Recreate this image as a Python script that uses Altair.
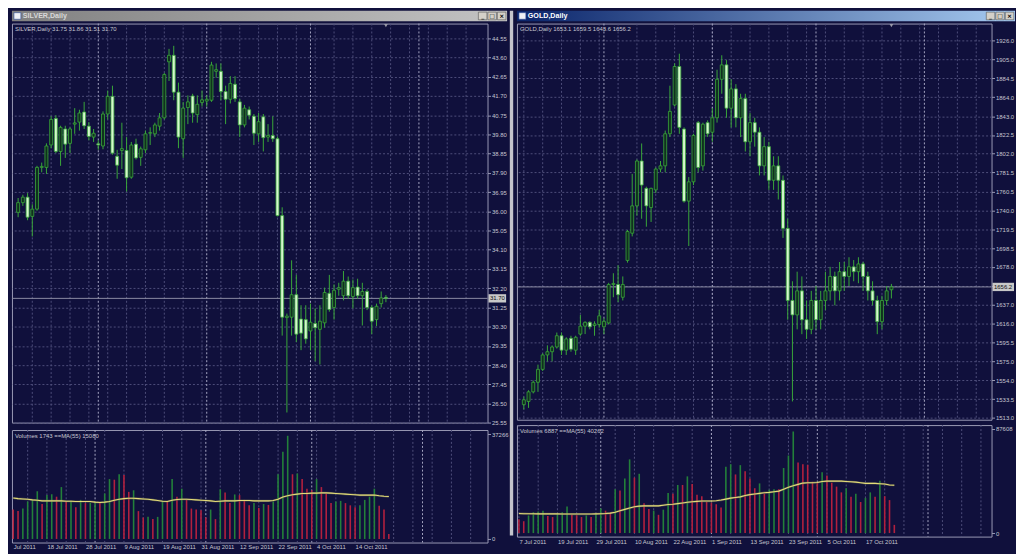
import altair as alt
import pandas as pd

# ------------------------------------------------------------------ data
silver_open = [35.95, 36.43, 36.70, 35.75, 36.11, 38.17, 38.17, 39.28, 40.59, 38.96,
               40.07, 39.36, 40.31, 40.41, 40.91, 40.21, 39.67, 39.34, 39.23, 40.81,
               41.68, 38.72, 39.01, 39.01, 37.69, 39.32, 38.67, 39.04, 39.86, 39.83,
               40.21, 40.62, 43.39, 43.71, 41.89, 39.59, 41.13, 41.70, 40.78, 41.38,
               41.45, 41.49, 42.92, 42.92, 41.92, 41.54, 42.28, 41.41, 40.27, 41.02,
               40.70, 39.83, 40.67, 39.67, 39.75, 39.59, 35.79, 30.75, 30.77, 31.88,
               30.68, 30.65, 30.09, 30.46, 30.17, 30.49, 31.95, 31.25, 32.15, 31.83,
               32.55, 31.79, 32.26, 31.83, 32.04, 31.25, 30.65, 31.44, 31.75]
silver_high = [36.66, 36.82, 36.90, 36.35, 38.25, 38.41, 39.36, 40.70, 40.75, 40.23,
               40.23, 40.15, 41.10, 41.02, 41.41, 40.41, 40.07, 39.51, 40.94, 41.97,
               42.21, 39.04, 40.38, 39.67, 39.43, 39.59, 39.20, 39.99, 40.15, 40.38,
               40.86, 42.84, 44.03, 44.18, 42.36, 41.41, 41.73, 41.81, 41.73, 41.97,
               41.73, 43.39, 43.31, 43.31, 42.21, 42.68, 42.68, 41.57, 41.26, 41.18,
               40.81, 40.86, 40.81, 40.31, 40.70, 39.70, 36.20, 30.95, 33.58, 32.86,
               31.36, 31.36, 31.44, 31.20, 31.36, 32.23, 32.86, 32.39, 32.47, 33.05,
               32.78, 32.63, 32.67, 32.47, 32.15, 31.36, 31.44, 32.04, 31.86]
silver_low = [35.71, 36.27, 35.56, 34.76, 36.03, 37.93, 37.85, 39.12, 38.88, 38.25,
              38.64, 38.88, 39.83, 39.99, 40.07, 39.51, 39.43, 39.04, 39.07, 40.54,
              38.80, 37.61, 38.09, 36.98, 37.61, 38.56, 38.25, 38.88, 39.28, 39.67,
              39.99, 40.54, 42.44, 41.49, 39.12, 38.64, 40.31, 40.38, 40.38, 41.18,
              41.18, 41.41, 42.60, 41.49, 40.31, 41.33, 41.41, 39.67, 40.15, 40.54,
              39.28, 39.43, 38.96, 39.43, 39.43, 35.75, 29.86, 26.06, 29.86, 29.54,
              29.14, 29.46, 29.14, 28.59, 28.43, 30.25, 31.04, 30.65, 31.83, 31.60,
              31.68, 31.20, 31.68, 30.36, 31.12, 29.93, 30.33, 31.25, 31.51]
silver_close = [36.43, 36.70, 35.71, 36.11, 38.17, 38.22, 39.23, 40.54, 38.96, 40.15,
                39.32, 40.07, 40.37, 40.86, 40.23, 39.70, 39.86, 39.28, 40.81, 41.68,
                38.88, 38.28, 39.10, 37.66, 39.28, 38.64, 39.09, 39.83, 39.89, 40.27,
                40.62, 42.76, 43.71, 41.89, 39.67, 41.10, 41.41, 40.86, 41.29, 41.51,
                41.54, 43.23, 43.00, 41.92, 41.54, 42.32, 41.57, 40.27, 41.10, 40.75,
                39.86, 40.43, 39.64, 39.75, 39.59, 35.79, 30.77, 30.82, 31.88, 29.93,
                29.98, 29.70, 30.52, 30.25, 30.57, 31.99, 31.15, 32.10, 32.23, 32.55,
                31.83, 32.23, 31.83, 32.04, 31.25, 30.57, 31.31, 31.72, 31.70]
silver_vol = [10474, 9905, 10816, 13323, 13893, 16970, 12412, 15603, 15900, 15033,
              18452, 13200, 13551, 11272, 13893, 12753, 12900, 13095, 12800, 16172,
              21301, 21073, 23010, 22700, 16742, 17312, 9905, 7626, 7900, 7056,
              7854, 13600, 13323, 21301, 15033, 17882, 13893, 10816, 10474, 10200,
              7626, 10474, 7056, 17654, 16514, 12753, 15831, 15603, 13893, 11956,
              12753, 11044, 12412, 12100, 13323, 23010, 30988, 36686, 23010, 23300,
              21301, 17882, 17312, 21301, 18452, 16172, 12753, 13323, 13551, 12753,
              11956, 11272, 11956, 13893, 15033, 17882, 11842, 10474, 1743]
silver_vol_dir = list("RRGGGGRGGR" "GRGRGRGGRG" "GRGRRGRRGR" "GGRGRGRRRR" "RGRGRRGRRR"
                      "GRGRGGGGRG" "RRRGRRRGGR" "RRGGGGRRR")
silver_ma = [14577, 14349, 14235, 14121, 13893, 13779, 13551, 13551, 13551, 13551,
             13551, 13437, 13437, 13323, 13323, 13323, 13323, 13095, 12981, 13095,
             13323, 13779, 14121, 14349, 14463, 14463, 14349, 14235, 14121, 13893,
             13665, 13437, 13323, 13779, 14007, 14121, 14121, 14007, 13893, 13779,
             13665, 13551, 13323, 13437, 13551, 13551, 13551, 13665, 13665, 13665,
             13551, 13551, 13551, 13551, 13665, 14121, 14919, 15375, 15716, 15944,
             16172, 16172, 16286, 16286, 16400, 16400, 16286, 16172, 16058, 15944,
             15830, 15716, 15603, 15603, 15603, 15603, 15375, 15200, 15080]

gold_open = [1527.4, 1530.9, 1541.4, 1551.9, 1566.0, 1581.8, 1585.3, 1590.5, 1602.8, 1587.0,
             1600.0, 1587.0, 1604.6, 1613.3, 1617.5, 1614.0, 1615.1, 1612.6, 1616.8, 1658.9,
             1658.9, 1644.9, 1685.2, 1715.0, 1744.9, 1794.0, 1764.1, 1743.1, 1762.4, 1785.2,
             1788.7, 1823.8, 1855.3, 1897.4, 1829.0, 1750.1, 1771.2, 1836.0, 1788.7, 1836.0,
             1825.5, 1841.3, 1883.4, 1899.2, 1851.8, 1872.9, 1841.3, 1862.3, 1815.0, 1836.0,
             1825.5, 1788.7, 1809.7, 1772.9, 1788.7, 1772.9, 1720.3, 1641.4, 1625.6, 1651.9,
             1620.3, 1609.8, 1641.4, 1620.3, 1641.4, 1651.9, 1667.7, 1651.9, 1672.9, 1667.7,
             1678.2, 1672.9, 1681.4, 1667.7, 1651.9, 1641.4, 1618.2, 1641.4, 1653.1]
gold_high = [1536.2, 1543.2, 1553.7, 1571.2, 1583.5, 1592.3, 1592.3, 1606.3, 1606.3, 1601.1,
             1602.8, 1602.8, 1625.6, 1618.6, 1618.6, 1618.6, 1630.9, 1622.1, 1660.7, 1671.2,
             1680.0, 1667.7, 1718.5, 1779.9, 1795.7, 1813.2, 1765.9, 1764.8, 1786.9, 1794.0,
             1827.3, 1876.4, 1900.9, 1911.4, 1830.8, 1776.4, 1823.8, 1837.8, 1836.0, 1838.5,
             1851.8, 1893.9, 1909.7, 1904.4, 1883.4, 1878.1, 1867.6, 1867.6, 1846.5, 1841.3,
             1830.8, 1820.2, 1815.0, 1799.2, 1799.2, 1778.2, 1730.8, 1662.4, 1672.9, 1667.7,
             1641.4, 1651.9, 1657.2, 1651.9, 1672.9, 1678.2, 1672.9, 1683.5, 1683.5, 1688.7,
             1685.6, 1688.7, 1683.5, 1672.9, 1662.4, 1646.6, 1646.6, 1657.2, 1659.5]
gold_low = [1522.1, 1523.9, 1539.7, 1541.4, 1564.2, 1574.7, 1574.7, 1588.8, 1581.8, 1581.8,
            1585.3, 1581.8, 1602.8, 1604.6, 1609.8, 1602.8, 1611.6, 1604.6, 1615.1, 1644.9,
            1639.6, 1641.4, 1682.8, 1711.5, 1734.3, 1730.8, 1722.1, 1727.3, 1758.9, 1781.7,
            1781.7, 1820.3, 1853.6, 1823.8, 1748.4, 1701.0, 1767.6, 1781.7, 1783.4, 1820.3,
            1815.0, 1836.0, 1867.6, 1841.3, 1830.8, 1830.8, 1820.2, 1804.4, 1799.2, 1809.7,
            1778.2, 1778.2, 1762.4, 1762.4, 1751.9, 1709.8, 1620.3, 1530.9, 1609.8, 1604.5,
            1599.3, 1604.5, 1609.8, 1609.8, 1630.8, 1641.4, 1636.1, 1641.4, 1651.9, 1657.2,
            1662.4, 1660.3, 1651.9, 1641.4, 1636.1, 1604.5, 1609.8, 1636.1, 1643.6]
gold_close = [1532.7, 1541.4, 1551.9, 1566.0, 1581.8, 1585.3, 1590.5, 1602.8, 1587.0, 1599.3,
              1588.1, 1601.1, 1613.3, 1617.5, 1612.6, 1615.7, 1624.6, 1618.6, 1658.9, 1660.0,
              1647.7, 1658.9, 1716.8, 1744.9, 1794.0, 1767.7, 1744.9, 1764.1, 1785.2, 1788.7,
              1823.8, 1848.3, 1897.4, 1830.8, 1750.1, 1771.2, 1822.0, 1786.9, 1834.3, 1823.8,
              1841.3, 1883.4, 1899.2, 1851.8, 1872.9, 1841.3, 1862.3, 1815.0, 1836.0, 1825.5,
              1788.7, 1809.7, 1772.9, 1788.7, 1772.9, 1720.3, 1641.4, 1625.6, 1651.9, 1620.3,
              1609.8, 1641.4, 1620.3, 1641.4, 1651.9, 1667.7, 1651.9, 1672.9, 1667.7, 1678.2,
              1672.9, 1681.4, 1667.7, 1651.9, 1641.4, 1618.2, 1641.4, 1651.9, 1656.2]
gold_vol = [11567, 9950, 14803, 17500, 18039, 18848, 14264, 13455, 16153, 17500,
            22353, 15345, 15000, 13455, 14803, 13455, 16153, 20735, 18848, 17500,
            36913, 35835, 45812, 61990, 46620, 49857, 25049, 20196, 18848, 15345,
            19657, 33677, 33138, 40419, 40419, 47700, 41228, 32329, 30981, 26127,
            25588, 24240, 21544, 55789, 57945, 49318, 57137, 52012, 45812, 37723,
            41767, 33138, 36374, 36913, 36913, 54710, 65224, 85447, 59293, 57945,
            57406, 43115, 42306, 51202, 48506, 42306, 39069, 34216, 37723, 30443,
            33138, 26127, 29632, 34216, 30443, 43924, 30981, 27745, 6887]
gold_vol_dir = list("RRGGGGRRGG" "GRRRGRGGRR" "GRGGRGRRGR" "GGRGRGRRRR" "RRRGGRGRRR"
                    "GRGGRGGGRR" "RRRGRRRRGR" "GRGGRGRRR")
gold_ma = [16400, 16300, 16250, 16200, 16150, 16150, 16150, 16100, 16100, 16050,
           16050, 16000, 16000, 16000, 16000, 16050, 16100, 16200, 16400, 16800,
           17500, 18848, 19926, 21005, 22083, 22622, 22892, 22892, 22892, 22892,
           23431, 23970, 24240, 24779, 25318, 25857, 26397, 26666, 26936, 26936,
           26936, 27205, 27745, 28554, 29363, 29902, 30443, 31521, 32329, 32868,
           33408, 33947, 34216, 34755, 35294, 36913, 38530, 39879, 40955, 42040,
           42306, 42306, 42573, 43382, 43656, 43656, 43656, 43656, 43382, 43115,
           42848, 42306, 41767, 41767, 41767, 41497, 41228, 40419, 40262]

silver_price_labels = [44.55, 43.60, 42.65, 41.70, 40.75, 39.80, 38.85, 37.90, 36.95, 36.00,
                       35.05, 34.10, 33.15, 32.20, 31.25, 30.30, 29.35, 28.40, 27.45, 26.50, 25.55]
gold_price_labels = [1926.0, 1905.0, 1884.5, 1864.0, 1843.0, 1822.5, 1802.0, 1781.5, 1760.5,
                     1740.0, 1719.5, 1698.5, 1678.0, 1657.5, 1637.0, 1616.0, 1595.5, 1575.0,
                     1554.0, 1533.5, 1513.0]
silver_date_idx = [0, 7, 15, 23, 31, 39, 47, 55, 63, 71]
silver_date_txt = ["Jul 2011", "18 Jul 2011", "28 Jul 2011", "9 Aug 2011", "19 Aug 2011",
                   "31 Aug 2011", "12 Sep 2011", "22 Sep 2011", "4 Oct 2011", "14 Oct 2011"]
gold_date_idx = [0, 8, 16, 24, 32, 40, 48, 56, 64, 72]
gold_date_txt = ["7 Jul 2011", "19 Jul 2011", "29 Jul 2011", "10 Aug 2011", "22 Aug 2011",
                 "1 Sep 2011", "13 Sep 2011", "23 Sep 2011", "5 Oct 2011", "17 Oct 2011"]
silver_grid_idx = list(range(3, 99, 4))
gold_grid_idx = list(range(0, 99, 4))
month_sep_idx = [17, 40, 62, 85]

# ------------------------------------------------------------------ style
SX = 1008 / 1020
SY = 538 / 554
NAVY = "#10103c"
GRID = "#4e4e7a"
MONTH = "#a6a6c2"
FRAME = "#9a9ab4"
TXT = "#c6c6d0"
WICK = "#3aa83a"
BULL = "#10301f"
BEAR = "#d4f7cc"
VUP = "#23803a"
VDN = "#b2203e"
MAC = "#e4dc78"
FONT = "Liberation Sans"
FS = 6.0


def title_bar(title, w, h, c0, c1, tc):
    base = alt.Chart(pd.DataFrame({"t": [title]}))
    grad = alt.LinearGradient(gradient="linear", x1=0, x2=1, y1=0, y2=0,
                              stops=[alt.GradientStop(color=c0, offset=0),
                                     alt.GradientStop(color=c1, offset=1)])
    layers = [
        base.mark_rect(color=grad).encode(x=alt.value(0), x2=alt.value(w),
                                          y=alt.value(0), y2=alt.value(h)),
        base.mark_rect(color="#eef0f6", stroke="#2a4a9a", strokeWidth=0.6).encode(
            x=alt.value(2), x2=alt.value(9), y=alt.value(2), y2=alt.value(h - 2)),
        base.mark_text(align="left", baseline="middle", font=FONT, fontSize=7.2,
                       fontWeight="bold", color=tc).encode(
            text="t:N", x=alt.value(11), y=alt.value(h / 2 + 0.5)),
    ]
    for k, g in enumerate(["_", "□", "×"]):
        x0 = w - 29 + k * 9.6
        layers.append(base.mark_rect(color="#d4d0c8", stroke="#404040", strokeWidth=0.5).encode(
            x=alt.value(x0), x2=alt.value(x0 + 8.6), y=alt.value(1.5), y2=alt.value(h - 1.5)))
        layers.append(base.mark_text(align="center", baseline="middle", font="DejaVu Sans",
                                     fontSize=6, fontWeight="bold", color="#000000").encode(
            text=alt.value(g), x=alt.value(x0 + 4.3), y=alt.value(h / 2)))
    return alt.layer(*layers).properties(width=w, height=h, view=alt.ViewBackground(stroke=None))


def price_pane(o, h, l, c, header, pw, ph, axw, xdom, ydom, yvals, fmt, hide, grid_idx):
    n = len(o)
    df = pd.DataFrame({"i": list(range(n)), "o": o, "h": h, "l": l, "c": c})
    df["d"] = ["up" if cc >= oo else "down" for oo, cc in zip(o, c)]
    xs = alt.Scale(domain=xdom, nice=False, zero=False)
    ys = alt.Scale(domain=ydom, nice=False, zero=False)
    cond = " || ".join(f"datum.value == {v}" for v in hide) if hide else "false"
    yaxis = alt.Axis(orient="right", values=yvals, labelExpr=f"({cond}) ? '' : format(datum.value, '{fmt}')",
                     grid=True, gridDash=[2, 2], gridColor=GRID, gridWidth=1, domain=False,
                     ticks=True, tickSize=3, tickColor=FRAME, labelColor=TXT, labelFont=FONT,
                     labelFontSize=FS, labelPadding=1, labelOverlap=False, labelFlush=False,
                     labelBound=False, title=None)

    def X(f):
        return alt.X(f, scale=xs, axis=None)

    def Y(f):
        return alt.Y(f, scale=ys, axis=yaxis)

    last = c[-1]
    bh = 4.2 * (ydom[1] - ydom[0]) / ph
    layers = [
        alt.Chart(pd.DataFrame({"g": grid_idx})).mark_rule(color=GRID, strokeDash=[2, 2], strokeWidth=1)
        .encode(x=X("g:Q")),
        alt.Chart(pd.DataFrame({"g": month_sep_idx})).mark_rule(color=MONTH, strokeDash=[2, 2], strokeWidth=1)
        .encode(x=X("g:Q")),
        alt.Chart(pd.DataFrame({"p": [last]})).mark_rule(color="#8c8ca4", strokeWidth=1).encode(y=Y("p:Q")),
        alt.Chart(df).mark_rule(color=WICK, strokeWidth=1).encode(x=X("i:Q"), y=Y("l:Q"), y2="h:Q"),
        alt.Chart(df).mark_bar(size=3.0, stroke=WICK, strokeWidth=0.8).encode(
            x=X("i:Q"), y=Y("o:Q"), y2="c:Q",
            fill=alt.Fill("d:N", scale=alt.Scale(domain=["up", "down"], range=[BULL, BEAR]), legend=None)),
        alt.Chart(pd.DataFrame({"t": [header]})).mark_text(
            align="left", baseline="top", font=FONT, fontSize=FS, color=TXT).encode(
            text="t:N", x=alt.value(3), y=alt.value(3)),
        alt.Chart(pd.DataFrame({"p": [last]})).transform_calculate(
            top=f"datum.p + {bh}", bot=f"datum.p - {bh}").mark_rect(color="#c8c8c8").encode(
            x=alt.value(pw + 1), x2=alt.value(pw + axw - 1), y=Y("top:Q"), y2="bot:Q"),
        alt.Chart(pd.DataFrame({"p": [last], "t": [format(last, fmt)]})).mark_text(
            align="left", baseline="middle", font=FONT, fontSize=FS, color="#101010").encode(
            text="t:N", x=alt.value(pw + 2.5), y=Y("p:Q")),
        alt.Chart(pd.DataFrame({"m": [n - 1]})).mark_point(
            shape="triangle-down", filled=True, size=14, color="#9a9aa8", opacity=1).encode(
            x=X("m:Q"), y=alt.value(2)),
    ]
    return alt.layer(*layers).properties(width=pw, height=ph,
                                          view=alt.ViewBackground(stroke=FRAME, strokeWidth=1))


def volume_pane(vol, vdir, ma, header, pw, vh, xdom, vdom, vmax, grid_idx, didx, dtxt):
    n = len(vol)
    df = pd.DataFrame({"i": list(range(n)), "v": vol, "vc": vdir, "ma": ma})
    xs = alt.Scale(domain=xdom, nice=False, zero=False)
    ys = alt.Scale(domain=vdom, nice=False, zero=False)
    arr_i = "[" + ",".join(str(v) for v in didx) + "]"
    arr_t = "[" + ",".join("'" + t + "'" for t in dtxt) + "]"
    xaxis = alt.Axis(orient="bottom", values=didx, labelExpr=f"{arr_t}[indexof({arr_i}, datum.value)]",
                     grid=False, domain=False, ticks=False, labelAlign="left", labelBaseline="top",
                     labelPadding=1.5, labelColor=TXT, labelFont=FONT, labelFontSize=FS,
                     labelOverlap=False, labelFlush=False, labelBound=False, title=None)
    yaxis = alt.Axis(orient="right", values=[0, vmax], format="d", grid=False, domain=False,
                     ticks=True, tickSize=3, tickColor=FRAME, labelColor=TXT, labelFont=FONT,
                     labelFontSize=FS, labelPadding=1, labelOverlap=False, labelFlush=False,
                     labelBound=False, title=None)

    def X(f):
        return alt.X(f, scale=xs, axis=xaxis)

    def Y(f):
        return alt.Y(f, scale=ys, axis=yaxis)

    layers = [
        alt.Chart(pd.DataFrame({"g": grid_idx})).mark_rule(color=GRID, strokeDash=[2, 2], strokeWidth=1)
        .encode(x=X("g:Q")),
        alt.Chart(pd.DataFrame({"g": month_sep_idx})).mark_rule(color=MONTH, strokeDash=[2, 2], strokeWidth=1)
        .encode(x=X("g:Q")),
        alt.Chart(df).mark_rule(strokeWidth=1.6).encode(
            x=X("i:Q"), y=Y("v:Q"), y2=alt.datum(0),
            color=alt.Color("vc:N", scale=alt.Scale(domain=["G", "R"], range=[VUP, VDN]), legend=None)),
        alt.Chart(df).mark_line(color="#6a6a50", strokeWidth=2.2, opacity=0.6).encode(x=X("i:Q"), y=Y("ma:Q")),
        alt.Chart(df).mark_line(color=MAC, strokeWidth=1.1).encode(x=X("i:Q"), y=Y("ma:Q")),
        alt.Chart(pd.DataFrame({"t": [header]})).mark_text(
            align="left", baseline="top", font=FONT, fontSize=FS, color=TXT).encode(
            text="t:N", x=alt.value(3), y=alt.value(3)),
    ]
    return alt.layer(*layers).properties(width=pw, height=vh,
                                          view=alt.ViewBackground(stroke=FRAME, strokeWidth=1))


TB = 11 * SY

# silver window
s_pw, s_axw = 486 * SX, 20 * SX
silver_col = alt.vconcat(
    title_bar("SILVER,Daily", s_pw + s_axw, TB, "#808080", "#c4c4c4", "#d8d8d8"),
    alt.vconcat(
        price_pane(silver_open, silver_high, silver_low, silver_close,
                   "SILVER,Daily  31.75 31.86 31.51 31.70", s_pw, 415 * SY, s_axw,
                   [-0.26, 98.5], [25.56, 45.28], silver_price_labels, ".2f", [], silver_grid_idx),
        volume_pane(silver_vol, silver_vol_dir, silver_ma, "Volumes 1743   ==MA(55) 15080",
                    s_pw, 117 * SY, [-0.26, 98.5], [-1265, 38736], 37266,
                    silver_grid_idx, silver_date_idx, silver_date_txt),
        spacing=2.5),
    spacing=1)

# gold window
g_pw, g_axw = 485 * SX, 24 * SX
gold_col = alt.vconcat(
    title_bar("GOLD,Daily", g_pw + g_axw, TB, "#0a246a", "#a6caf0", "#ffffff"),
    alt.vconcat(
        price_pane(gold_open, gold_high, gold_low, gold_close,
                   "GOLD,Daily  1653.1 1659.5 1643.6 1656.2", g_pw, 412 * SY, g_axw,
                   [-0.41, 98.2], [1510.9, 1944.4], gold_price_labels, ".1f", [1657.5], gold_grid_idx),
        volume_pane(gold_vol, gold_vol_dir, gold_ma, "Volumes 6887   ==MA(55) 40262",
                    g_pw, 116 * SY, [-0.41, 98.2], [-2993, 90844], 87608,
                    gold_grid_idx, gold_date_idx, gold_date_txt),
        spacing=2.5),
    spacing=1)

sep = alt.Chart(pd.DataFrame({"a": [0]})).mark_rect(color="#c4c4cc").encode(
    x=alt.value(0.8), x2=alt.value(4.2), y=alt.value(0), y2=alt.value(530)
).properties(width=5 * SX, height=530, view=alt.ViewBackground(stroke=None))

chart = alt.hconcat(silver_col, sep, gold_col, spacing=0).properties(
    background=NAVY, padding=0
).configure_view(stroke=None).configure(font=FONT)

chart.save("out.html", embed_options={"renderer": "svg", "actions": False})
